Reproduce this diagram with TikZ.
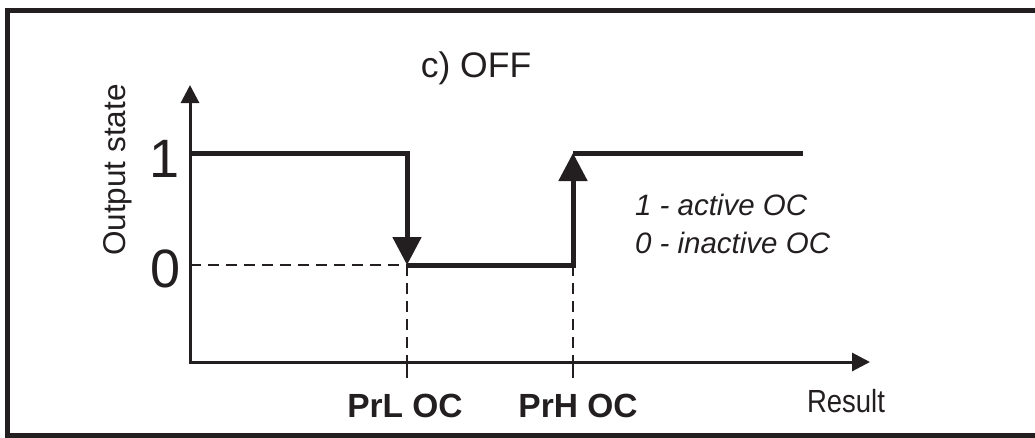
\documentclass[tikz,border=0pt]{standalone}
\usepackage{fontspec}
\setmainfont{Liberation Sans}
\newfontfamily\narrowfont[FakeStretch=0.86]{Liberation Sans}
\usetikzlibrary{arrows.meta}
\definecolor{ink}{HTML}{231F20}
\begin{document}
\begin{tikzpicture}[x=1pt,y=-1pt,
  lbl/.style={inner sep=0pt, outer sep=0pt, text=ink},
  axisline/.style={line width=3pt, draw=ink},
  stepline/.style={line width=5pt, draw=ink},
  guide/.style={line width=1.6pt, draw=ink, dash pattern=on 11pt off 7pt},
  tickline/.style={line width=1.6pt, draw=ink},
  bigtip/.style={-{Triangle[length=28pt,width=28pt]}},
]
\useasboundingbox (0,0) rectangle (1035,437);
\draw[line width=5pt, draw=ink] (7.5,10.5) rectangle (1050,435.5);

\coordinate (O) at (190,362);
\coordinate (ytip) at (190,85);
\coordinate (xtip) at (870,362);
\coordinate (hiStart) at (190,153);
\coordinate (lBot) at (407,265);
\coordinate (hBot) at (573,265);
\coordinate (hTop) at (573,153);
\coordinate (hiEnd) at (803,153);
\coordinate (lo0) at (190,265);
\coordinate (lAx) at (407,362);
\coordinate (hAx) at (573,362);
\coordinate (lTick) at (407,378);
\coordinate (hTick) at (573,378);

% guides
\draw[guide] (lo0) -- (lBot);
\draw[guide] (lBot) -- (lAx);
\draw[guide] (hBot) -- (hAx);
\draw[tickline] (lAx) -- (lTick);
\draw[tickline] (hAx) -- (hTick);

% axes
\draw[axisline, {Triangle[length=18pt,width=18pt]}-{Triangle[length=18pt,width=18pt]}] (ytip) |- (xtip);

% output step
\draw[stepline, bigtip] (hiStart) -| (lBot);
\draw[stepline, bigtip] (lBot) -| (hTop);
\draw[stepline] (hTop) -- (hiEnd);

% labels
\node[lbl, anchor=base, font=\fontsize{35.5}{42}\selectfont] (title) at (476,77) {c) OFF};
\node[lbl, anchor=base, rotate=90, font=\fontsize{31.5}{36}\selectfont] (ylab) at (125,170) {Output state};
\node[lbl, anchor=base, font=\fontsize{54}{60}\selectfont] (one) at (165,177) {1};
\node[lbl, anchor=base, font=\fontsize{54}{60}\selectfont] (zero) at (166,287) {0};
\node[lbl, anchor=base, font=\bfseries\fontsize{33.5}{40}\selectfont] (prl) at (405,417) {PrL OC};
\node[lbl, anchor=base, font=\bfseries\fontsize{33.5}{40}\selectfont] (prh) at (578,417) {PrH OC};
\node[lbl, anchor=base, font=\narrowfont\fontsize{32}{38}\selectfont] (res) at (846,412) {Result};
\node[lbl, anchor=base west, font=\itshape\fontsize{29.5}{34}\selectfont] (leg1) at (635,215) {1 - active OC};
\node[lbl, anchor=base west, font=\itshape\fontsize{29.5}{34}\selectfont] (leg0) at (635,253) {0 - inactive OC};
\end{tikzpicture}
\end{document}
